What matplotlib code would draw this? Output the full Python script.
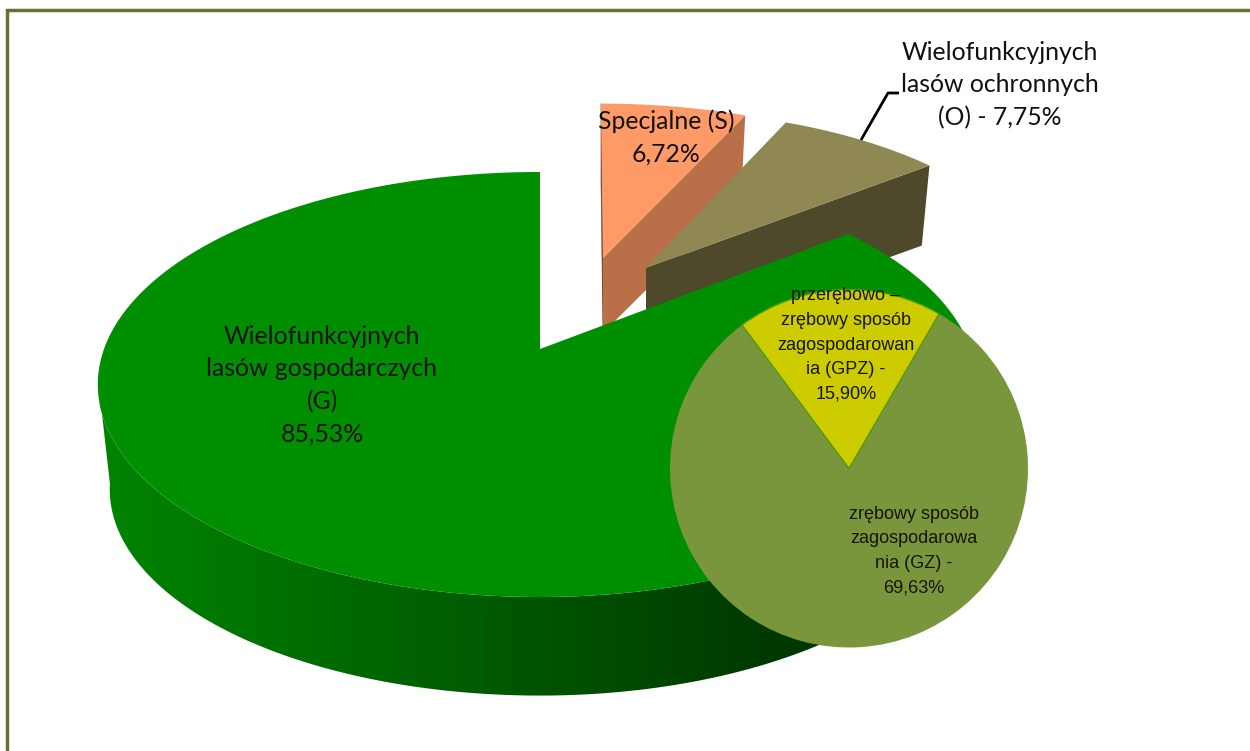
import numpy as np
import matplotlib
matplotlib.use('Agg')
import matplotlib.pyplot as plt
from matplotlib.patches import Polygon, Wedge
from matplotlib.colors import LinearSegmentedColormap

# shares of the main pie, clockwise from 12 o'clock
main_labels = ['Specjalne (S)\n6,72%',
               'Wielofunkcyjnych\nlasów ochronnych\n(O) - 7,75%',
               'Wielofunkcyjnych\nlasów gospodarczych\n(G)\n85,53%']
main_values = [6.72, 7.75, 85.53]

# breakdown of G shown in the second pie
sub_labels = ['przerębowo –\nzrębowy sposób\nzagospodarowan\nia (GPZ) -\n15,90%',
              'zrębowy sposób\nzagospodarowa\nnia (GZ) -\n69,63%']
sub_values = [15.90, 69.63]
sub_start = -36.7

k = 0.167  # perspective strength
R = 436
H = 206.6


def rim(deg, cx, cy, sx, sy):
    # point(s) on the pie edge seen in perspective, deg is clockwise from north
    t = np.radians(deg)
    u, v = np.sin(t), np.cos(t)
    d = 1 + k * v
    return cx + sx * R * u / d, cy - sy * H * v / d


def lower(x, y, cx, cy, depth):
    # same outline moved down to the underside of the slab
    return cx + (x - cx) * 0.973, cy + depth + (y - cy) * 0.97


fig = plt.figure(figsize=(12.5, 7.51), dpi=100)
ax = fig.add_axes([0, 0, 1, 1])
ax.set_xlim(0, 1250)
ax.set_ylim(751, 0)
ax.axis('off')

# frame runs off the right and bottom of the crop
ax.plot([7, 7, 1250], [751, 10, 10], color='#5f7530', lw=2.5, solid_joinstyle='miter')

edges = np.cumsum([0] + main_values) * 3.6

# Specjalne, exploded upwards
cx, cy, dep = 603, 258, 75
ang = np.linspace(edges[0], edges[1], 40)
x, y = rim(ang, cx - 2, cy, 0.93, 0.872)
bx, by = lower(x, y, cx, cy, dep)
ax.add_patch(Polygon([(x[0], y[0]), (cx, cy), (cx, cy + dep), (bx[0], by[0])], fc='#7a4a30', ec='#7a4a30', lw=0.5))
ax.add_patch(Polygon([(x[-1], y[-1]), (cx, cy), (cx, cy + dep), (bx[-1], by[-1])], fc='#b96f48', ec='none'))
ax.add_patch(Polygon(np.r_[[(cx, cy)], np.c_[x, y]], fc='#fd9a68', ec='none'))

# Ochronne
cx, cy, dep = 646, 268, 77
ang = np.linspace(edges[1], edges[2], 40)
x, y = rim(ang, cx - 2, cy, 0.915, 0.89)
bx, by = lower(x, y, cx, cy, dep)
ax.add_patch(Polygon([(x[-1], y[-1]), (cx, cy), (cx, cy + dep), (bx[-1], by[-1])], fc='#4f492c', ec='none'))
ax.add_patch(Polygon(np.r_[[(cx, cy)], np.c_[x, y]], fc='#8f8853', ec='none'))

# Gospodarcze - gradient wall first, then the top
cx, cy = 540, 349
ang = np.linspace(95, 262, 160)
x, y = rim(ang, cx, cy, 1, 1)
x = np.where(x > cx, cx + (x - cx) * 0.988, x)
bx, by = lower(x, y, cx, cy, 106)
wall = Polygon(np.r_[np.c_[x, y], np.c_[bx, by][::-1]], fc='none', ec='none')
ax.add_patch(wall)
side = LinearSegmentedColormap.from_list('side', ['#008400', '#006c00', '#005400', '#003a00', '#003000'])
img = ax.imshow(np.linspace(0, 1, 256)[None, :], cmap=side, extent=(100, 980, 751, 0), aspect='auto', zorder=1)
img.set_clip_path(wall)
ax.set_xlim(0, 1250)
ax.set_ylim(751, 0)

ang = np.linspace(edges[2], edges[3], 300)
x, y = rim(ang, cx, cy, 1, 1)
x = np.where(x > cx, cx + (x - cx) * 0.988, x)
ax.add_patch(Polygon(np.r_[[(cx, cy)], np.c_[x, y]], fc='#008f00', ec='none', zorder=2))

# second pie
pc = (849, 468.5)
pr = 179
t1 = sub_start - 90
t2 = t1 + sub_values[0] / sum(sub_values) * 360
ax.add_patch(Wedge(pc, pr, t2, t1 + 360, fc='#7a963c', ec='none', zorder=3))
ax.add_patch(Wedge(pc, pr, t1, t2, fc='#cccc00', ec='#4f9a10', lw=1, zorder=3))

# leader line of the O label
ax.plot([861, 888, 899], [140, 93, 93], color='black', lw=2, zorder=4, solid_capstyle='butt')

big = dict(family='Lato', fontsize=17.8, color='#111111', ha='center', va='center', linespacing=1.5, zorder=5)
small = dict(family='Liberation Sans', fontsize=13, color='#151500', ha='center', va='center', linespacing=1.58, zorder=5)
ax.text(666, 137.5, main_labels[0], **big)
ax.text(1000, 85, main_labels[1], **big)
ax.text(322, 385, main_labels[2], **big)
ax.text(846, 345, sub_labels[0], **small)
ax.text(914, 551, sub_labels[1], **small)

fig.savefig('out.png', dpi=100)
